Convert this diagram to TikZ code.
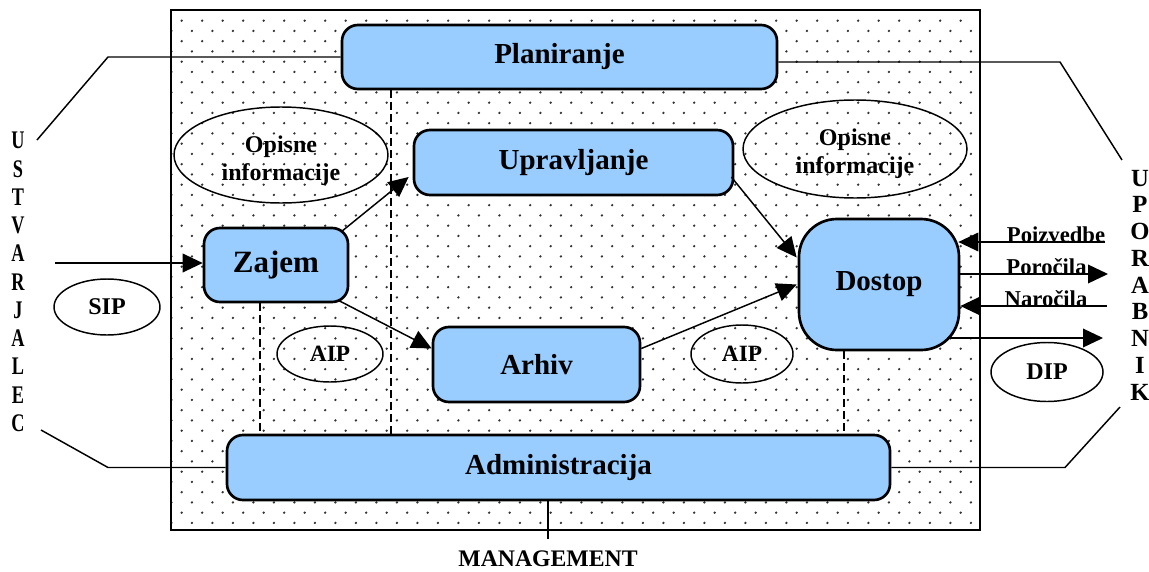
\documentclass[tikz,border=0pt]{standalone}
\usepackage{fontspec}
\setmainfont{Liberation Serif}
\usetikzlibrary{arrows.meta,calc,shapes.geometric}

\definecolor{boxblue}{HTML}{99CCFF}
\definecolor{dotgray}{HTML}{333333}

\tikzset{
  fsz/.style={font=\bfseries\fontsize{#1}{#1}\selectfont},
  procbox/.style={draw, line width=2pt, fill=boxblue, rounded corners=12pt,
    inner sep=0pt, fsz=21.75pt},
  infoell/.style={ellipse, draw, line width=1.1pt, inner sep=0pt, align=center},
  infotext/.style={inner sep=0pt, align=center, font=\bfseries\fontsize{18pt}{21pt}\selectfont},
  ln/.style={line width=1.1pt},
  dashln/.style={line width=1.3pt, dash pattern=on 6pt off 3pt},
  arr/.style={line width=1.1pt, -{Triangle[length=15pt,width=14pt]}},
  flowlbl/.style={anchor=base, inner sep=0pt, fsz=17pt},
}
\newcommand{\narrowletter}[1]{\scalebox{0.72}[1]{#1}}

\begin{document}
\begin{tikzpicture}[x=0.75pt, y=-0.75pt]
\useasboundingbox (0,0) rectangle (1149,571);

% dotted background of the archive
\begin{scope}
  \clip (171,10) rectangle (980,530);
  \foreach \j in {0,...,49} {
    \pgfmathsetmacro\off{mod(\j,2)*10.25}
    \foreach \k in {-1,...,39} {
      \fill[dotgray] (181.7+\off+20.5*\k, 20.7+10.25*\j) circle[radius=0.95pt];
    }
  }
\end{scope}
\draw[ln] (171,10) rectangle (980,530);

% functional entities
\node[procbox, minimum width=326.25pt, minimum height=48pt] (plan) at (559.5,57) {Planiranje};
\node[procbox, minimum width=239.25pt, minimum height=48.75pt] (upr) at (573.5,162.5) {Upravljanje};
\node[procbox, minimum width=108pt, minimum height=55.5pt, fsz=23.25pt] (zaj) at (276,265) {Zajem};
\node[procbox, minimum width=155.25pt, minimum height=56.25pt] (arh) at (536.5,364.5) {Arhiv};
\node[procbox, minimum width=120pt, minimum height=98.25pt, rounded corners=28.5pt] (dos) at (879,284.5) {Dostop};
\node[procbox, minimum width=497.25pt, minimum height=48.75pt] (adm) at (558.5,467.5) {Administracija};

% information packages
\node[infoell, minimum width=160.5pt, minimum height=72pt] (opl) at (281,155) {};
\node[infotext] (oplt) at (281,161) {Opisne\\informacije};
\node[infoell, minimum width=168pt, minimum height=73.5pt] (opr) at (855,149) {};
\node[infotext] (oprt) at (855,154) {Opisne\\informacije};
\node[infoell, minimum width=79.5pt, minimum height=42pt, fsz=18pt] (sip) at (107,307) {SIP};
\node[infoell, minimum width=79.5pt, minimum height=42pt, fsz=17.5pt] (aipl) at (330,354) {AIP};
\node[infoell, minimum width=76.5pt, minimum height=43.5pt, fsz=17.5pt] (aipr) at (742,354) {AIP};
\node[infoell, minimum width=84pt, minimum height=44.25pt, fsz=18pt] (dip) at (1047,372) {DIP};

% producer and consumer
\node[align=center, inner sep=0pt, font=\bfseries\fontsize{19pt}{21.2pt}\selectfont] (prod) at (18,282)
  {\narrowletter{U}\\\narrowletter{S}\\\narrowletter{T}\\\narrowletter{V}\\\narrowletter{A}\\\narrowletter{R}\\\narrowletter{J}\\\narrowletter{A}\\\narrowletter{L}\\\narrowletter{E}\\\narrowletter{C}};
\node[align=center, inner sep=0pt, font=\bfseries\fontsize{18.5pt}{20.06pt}\selectfont] (cons) at (1140,285)
  {U\\P\\O\\R\\A\\B\\N\\I\\K};
\node[anchor=base, inner sep=0pt, fsz=17.8pt] (mgmt) at (548,566) {MANAGEMENT};

% brackets towards producer, consumer and management
\coordinate (l1) at (108,57);
\coordinate (l2) at (37,140);
\coordinate (l3) at (41,430);
\coordinate (l4) at (108,467.5);
\coordinate (r1) at (1060,62);
\coordinate (r2) at (1122,160);
\coordinate (r3) at (1120,407);
\coordinate (r4) at (1065,467.5);
\coordinate (m) at (548,539);
\draw[ln] (plan.west) -- (l1) -- (l2);
\draw[ln] (adm.west) -- (l4) -- (l3);
\draw[ln] (plan.east |- r1) -- (r1) -- (r2);
\draw[ln] (adm.east) -- (r4) -- (r3);
\draw[ln] (m |- adm.south) -- (m);

% administrative links
\coordinate (pd) at ($(plan.south west)+(50,0)$);
\coordinate (zd) at ($(zaj.south west)+(57,0)$);
\coordinate (dd) at ($(dos.south west)+(46,0)$);
\draw[dashln] (pd) -- (pd |- adm.north);
\draw[dashln] (zd) -- (zd |- adm.north);
\draw[dashln] (dd) -- (dd |- adm.north);

% data flow
\coordinate (in) at (55,263);
\draw[arr] (in) -- (in -| zaj.west);
\draw[arr] ($(zaj.north east)+(-8,5)$) -- ($(upr.west)+(-4,14.5)$);
\draw[arr] ($(zaj.south east)+(-11,-3)$) -- ($(arh.west)+(0,-16)$);
\draw[arr] ($(upr.east)+(-3,14.5)$) -- ($(dos.west)+(-1,-27)$);
\draw[arr] ($(arh.east)+(0,-16)$) -- ($(dos.west)+(-1,0)$);

% requests and deliveries
\coordinate (q1) at (1105,242);
\coordinate (q2) at (1108,274);
\coordinate (q3) at (1107,306);
\coordinate (q4) at (1103,338);
\draw[arr] (q1) -- ($(q1 -| dos.east)+(-2,0)$);
\draw[arr] (q2 -| dos.east) -- (q2);
\draw[arr] (q3) -- (q3 -| dos.east);
\draw[arr] ($(q4 -| dos.east)+(-13,0)$) -- (q4);
\node[flowlbl] (lq1) at (1056,242) {Poizvedbe};
\node[flowlbl] (lq2) at (1046.5,274) {Poročila};
\node[flowlbl] (lq3) at (1046,306) {Naročila};
\end{tikzpicture}
\end{document}
